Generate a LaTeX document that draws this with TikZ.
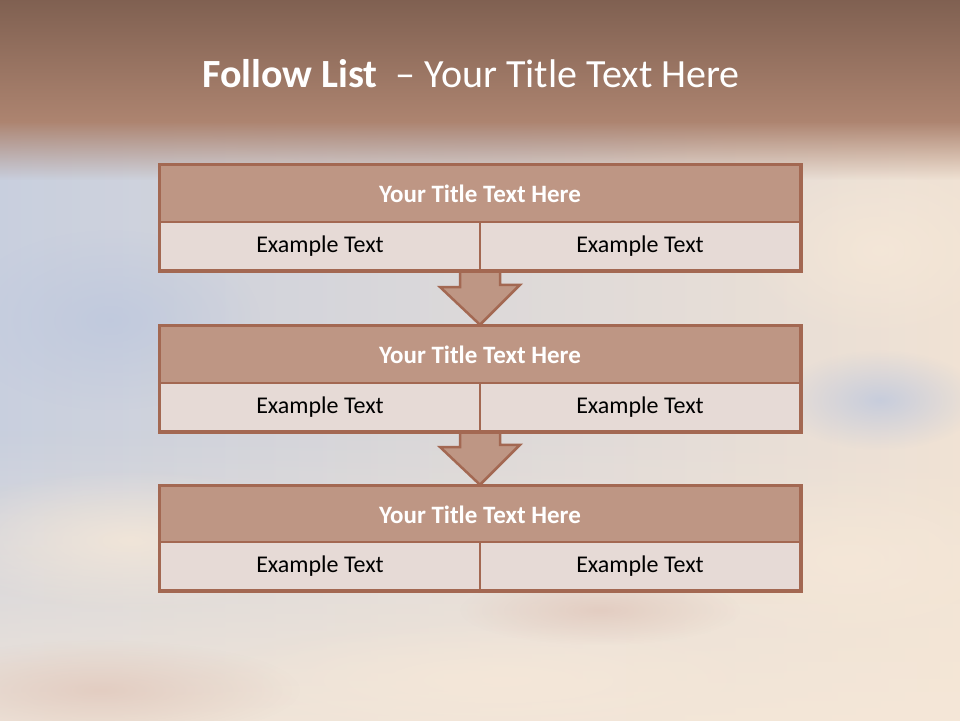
\documentclass[tikz,border=0pt]{standalone}
\usepackage{fontspec}
\setmainfont{Carlito}
\usetikzlibrary{fadings,calc}
\definecolor{bandfill}{RGB}{190,150,132}
\definecolor{edgecol}{RGB}{163,104,82}
\definecolor{rowfill}{RGB}{230,218,214}
\definecolor{topdark}{RGB}{126,95,80}
\definecolor{topmid}{RGB}{173,132,112}
\definecolor{skyblue}{RGB}{200,207,222}
\definecolor{skycream}{RGB}{240,226,212}
\definecolor{cloudwarm}{RGB}{246,232,216}
\definecolor{cloudblue}{RGB}{190,200,222}
\definecolor{cloudrose}{RGB}{225,200,188}
\tikzfading[name=softblob, inner color=transparent!0, outer color=transparent!100]
\tikzset{
  titlebox/.style={draw=edgecol, line width=2.5pt, fill=bandfill, minimum width=640pt, minimum height=57pt, inner sep=0pt, text=white, font=\fontsize{25}{30}\selectfont\bfseries},
  cellbox/.style={draw=edgecol, line width=2.5pt, fill=rowfill, minimum width=320pt, minimum height=48pt, inner sep=0pt, text=black, font=\fontsize{24}{29}\selectfont},
  downarrow/.style={draw=edgecol, line width=2.5pt, fill=bandfill, line join=miter},
  blob/.style={path fading=softblob, opacity=0.8}
}
\begin{document}
\begin{tikzpicture}[x=1pt,y=-1pt]
\useasboundingbox (0,0) rectangle (960,720);
% sky background
\shade[left color=skyblue, right color=skycream] (-5,-5) rectangle (965,725);
\fill[cloudwarm, path fading=north, opacity=0.85] (-5,430) rectangle (965,725);
\fill[cloudwarm, blob] (130,540) ellipse (200 and 70);
\fill[cloudwarm, blob] (850,560) ellipse (200 and 90);
\fill[cloudwarm, blob] (500,680) ellipse (300 and 60);
\fill[cloudrose, blob] (100,690) ellipse (200 and 50);
\fill[cloudwarm, blob] (880,250) ellipse (140 and 90);
\fill[cloudblue, blob] (880,400) ellipse (100 and 50);
\fill[cloudblue, blob] (110,320) ellipse (150 and 90);
\fill[cloudrose, blob] (600,610) ellipse (140 and 35);
\fill[cloudblue, blob, opacity=0.5] (470,130) ellipse (260 and 40);
% top band
\shade[top color=topdark, bottom color=topmid] (-5,-5) rectangle (965,122);
\fill[topmid, path fading=south] (-5,121) rectangle (965,180);
% title
\node[text=white, font=\fontsize{40}{48}\selectfont, anchor=base] (title) at (471,87) {\textbf{Follow List}\ \ – Your Title Text Here};
% boxes and arrows
\coordinate (s1) at (480,270);
\coordinate (s2) at (480,431);
\node[titlebox] (t1) at (480,193.5) {Your Title Text Here};
\node[titlebox] (t2) at (480,354.5) {Your Title Text Here};
\node[titlebox] (t3) at (480,514.5) {Your Title Text Here};
\draw[downarrow] ($(s1)+(-20,0)$) -- ++(0,17) -- ++(-20,0) -- (t2.north) -- ++(40,-40) -- ++(-20,0) -- ++(0,-17);
\draw[downarrow] ($(s2)+(-20,0)$) -- ++(0,16) -- ++(-20,0) -- (t3.north) -- ++(40,-40) -- ++(-20,0) -- ++(0,-16);
\node[cellbox] (a1) at (320,246) {Example Text};
\node[cellbox] (b1) at (640,246) {Example Text};
\node[cellbox] (a2) at (320,407) {Example Text};
\node[cellbox] (b2) at (640,407) {Example Text};
\node[cellbox] (a3) at (320,566) {Example Text};
\node[cellbox] (b3) at (640,566) {Example Text};
\draw[edgecol, line width=2.5pt] (t1.north west) rectangle (b1.south east);
\draw[edgecol, line width=2.5pt] (t2.north west) rectangle (b2.south east);
\draw[edgecol, line width=2.5pt] (t3.north west) rectangle (b3.south east);
\end{tikzpicture}
\end{document}
